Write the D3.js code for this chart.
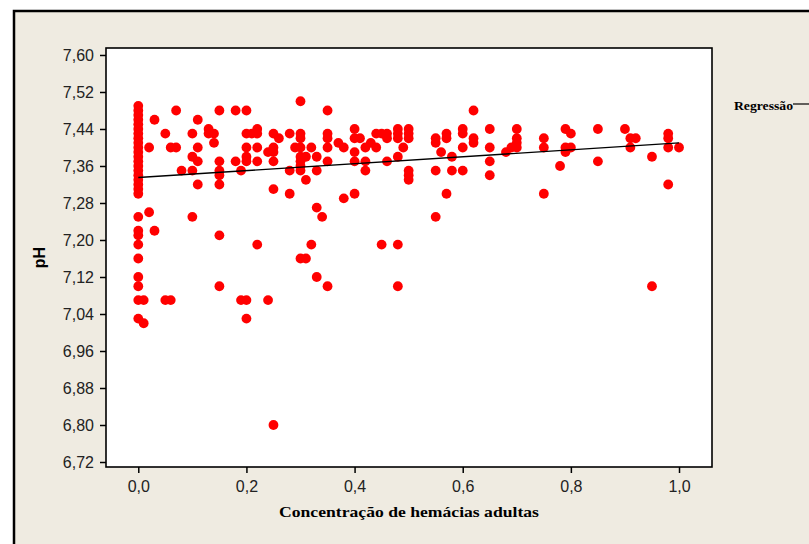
<!DOCTYPE html>
<html>
<head>
<meta charset="utf-8">
<script src="https://cdn.jsdelivr.net/npm/d3@7"></script>
<style>
  body { margin: 0; background: #fff; }
  .axis text { font-family: "Liberation Sans", Arial, sans-serif; font-size: 16px; fill: #222; }
  .axis line { stroke: #000; stroke-width: 1.5; }
</style>
</head>
<body>
<svg width="809" height="544"></svg>
<script>
// concentracao de hemacias adultas (eixo x) e valores de pH medidos em cada uma
var concentracao = [0.00, 0.01, 0.02, 0.03, 0.05, 0.06, 0.07, 0.08, 0.10, 0.11,
  0.13, 0.14, 0.15, 0.18, 0.19, 0.20, 0.21, 0.22, 0.24, 0.25,
  0.26, 0.28, 0.29, 0.30, 0.31, 0.32, 0.33, 0.34, 0.35, 0.37,
  0.38, 0.40, 0.41, 0.42, 0.43, 0.44, 0.45, 0.46, 0.48, 0.49,
  0.50, 0.55, 0.56, 0.57, 0.58, 0.60, 0.62, 0.65, 0.68, 0.69,
  0.70, 0.75, 0.78, 0.79, 0.80, 0.85, 0.90, 0.91, 0.92, 0.95,
  0.98, 1.00];

var phPorConcentracao = [
  [7.49, 7.48, 7.47, 7.46, 7.45, 7.44, 7.43, 7.42, 7.41, 7.40, 7.39, 7.38, 7.37, 7.36, 7.35,
   7.34, 7.33, 7.32, 7.31, 7.30, 7.25, 7.22, 7.21, 7.19, 7.16, 7.12, 7.10, 7.07, 7.03],
  [7.07, 7.02],
  [7.40, 7.26],
  [7.46, 7.22],
  [7.43, 7.07],
  [7.40, 7.07],
  [7.48, 7.40],
  [7.35],
  [7.43, 7.38, 7.35, 7.25],
  [7.46, 7.40, 7.37, 7.32],
  [7.44, 7.43],
  [7.43, 7.41],
  [7.48, 7.37, 7.35, 7.34, 7.32, 7.21, 7.10],
  [7.48, 7.37],
  [7.35, 7.07],
  [7.48, 7.43, 7.40, 7.38, 7.37, 7.07, 7.03],
  [7.43],
  [7.44, 7.43, 7.40, 7.37, 7.19],
  [7.39, 7.07],
  [7.43, 7.40, 7.39, 7.37, 7.31, 6.80],
  [7.42],
  [7.43, 7.35, 7.30],
  [7.40],
  [7.50, 7.43, 7.42, 7.40, 7.38, 7.37, 7.36, 7.35, 7.16],
  [7.38, 7.33, 7.16],
  [7.40, 7.19],
  [7.38, 7.35, 7.27, 7.12],
  [7.25],
  [7.48, 7.43, 7.42, 7.40, 7.37, 7.10],
  [7.41],
  [7.40, 7.29],
  [7.44, 7.42, 7.39, 7.37, 7.30],
  [7.42],
  [7.40, 7.37, 7.35],
  [7.41],
  [7.43, 7.40],
  [7.43, 7.19],
  [7.43, 7.42, 7.37],
  [7.44, 7.43, 7.42, 7.38, 7.19, 7.10],
  [7.40],
  [7.44, 7.43, 7.42, 7.35, 7.34, 7.33],
  [7.42, 7.41, 7.35, 7.25],
  [7.39],
  [7.43, 7.42, 7.30],
  [7.38, 7.35],
  [7.44, 7.43, 7.40, 7.35],
  [7.48, 7.42, 7.41],
  [7.44, 7.40, 7.37, 7.34],
  [7.39],
  [7.40],
  [7.44, 7.42, 7.41, 7.40],
  [7.42, 7.40, 7.30],
  [7.36],
  [7.44, 7.40, 7.39],
  [7.43, 7.40],
  [7.44, 7.37],
  [7.44],
  [7.42, 7.40],
  [7.42],
  [7.38, 7.10],
  [7.43, 7.42, 7.40, 7.32],
  [7.40]
];

// reta de regressao: pH = a + b * concentracao
var regressao = { intercepto: 7.335, inclinacao: 0.075 };

var xTicks = [0, 0.2, 0.4, 0.6, 0.8, 1.0];
var yTicks = [6.72, 6.80, 6.88, 6.96, 7.04, 7.12, 7.20, 7.28, 7.36, 7.44, 7.52, 7.60];

var data = [];
concentracao.forEach(function(c, i) {
  phPorConcentracao[i].forEach(function(p) {
    data.push({ x: c, ph: p });
  });
});

var svg = d3.select("svg");

// fundo bege com moldura
svg.append("rect")
  .attr("x", 14).attr("y", 11)
  .attr("width", 900).attr("height", 700)
  .attr("fill", "#efebe1")
  .attr("stroke", "#000")
  .attr("stroke-width", 2.5);

var plot = { left: 106, top: 48, right: 712, bottom: 467 };

var x = d3.scaleLinear()
  .domain([-0.0597, 1.061])
  .range([plot.left, plot.right]);

var y = d3.scaleLinear()
  .domain([6.7092, 7.6151])
  .range([plot.bottom, plot.top]);

var comma = function(f) { return function(d) { return d3.format(f)(d).replace(".", ","); }; };

svg.append("rect")
  .attr("x", plot.left).attr("y", plot.top)
  .attr("width", plot.right - plot.left)
  .attr("height", plot.bottom - plot.top)
  .attr("fill", "#fff");

svg.append("g")
  .attr("class", "axis")
  .attr("transform", "translate(0," + plot.bottom + ")")
  .call(d3.axisBottom(x).tickValues(xTicks).tickFormat(comma(".1f")).tickSize(6).tickPadding(8))
  .call(function(g) { g.select(".domain").remove(); });

svg.append("g")
  .attr("class", "axis")
  .attr("transform", "translate(" + plot.left + ",0)")
  .call(d3.axisLeft(y).tickValues(yTicks).tickFormat(comma(".2f")).tickSize(6).tickPadding(6))
  .call(function(g) { g.select(".domain").remove(); });

svg.append("g")
  .selectAll("circle")
  .data(data)
  .enter().append("circle")
  .attr("cx", function(d) { return x(d.x); })
  .attr("cy", function(d) { return y(d.ph); })
  .attr("r", 4.9)
  .attr("fill", "#ff0000");

var reta = d3.line()
  .x(function(d) { return x(d); })
  .y(function(d) { return y(regressao.intercepto + regressao.inclinacao * d); });

svg.append("path")
  .datum([0, 1])
  .attr("fill", "none")
  .attr("stroke", "#000")
  .attr("stroke-width", 1.4)
  .attr("d", reta);

svg.append("rect")
  .attr("x", plot.left).attr("y", plot.top)
  .attr("width", plot.right - plot.left)
  .attr("height", plot.bottom - plot.top)
  .attr("fill", "none")
  .attr("stroke", "#000")
  .attr("stroke-width", 1.6);

// titulos dos eixos
svg.append("text")
  .attr("x", (plot.left + plot.right) / 2)
  .attr("y", 517)
  .attr("text-anchor", "middle")
  .attr("font-family", "'Liberation Serif', 'Times New Roman', serif")
  .attr("font-weight", "bold")
  .attr("font-size", 15)
  .attr("textLength", 260)
  .attr("lengthAdjust", "spacingAndGlyphs")
  .text("Concentração de hemácias adultas");

svg.append("text")
  .attr("transform", "translate(45," + (plot.top + plot.bottom) / 2 + ") rotate(-90)")
  .attr("text-anchor", "middle")
  .attr("font-family", "'Liberation Sans', Arial, sans-serif")
  .attr("font-weight", "bold")
  .attr("font-size", 16)
  .text("pH");

// legenda
svg.append("text")
  .attr("x", 734)
  .attr("y", 110)
  .attr("font-family", "'Liberation Serif', 'Times New Roman', serif")
  .attr("font-weight", "bold")
  .attr("font-size", 13)
  .attr("textLength", 59)
  .attr("lengthAdjust", "spacingAndGlyphs")
  .text("Regressão");

svg.append("line")
  .attr("x1", 793).attr("x2", 809)
  .attr("y1", 104).attr("y2", 104)
  .attr("stroke", "#000")
  .attr("stroke-width", 1.2);
</script>
</body>
</html>
